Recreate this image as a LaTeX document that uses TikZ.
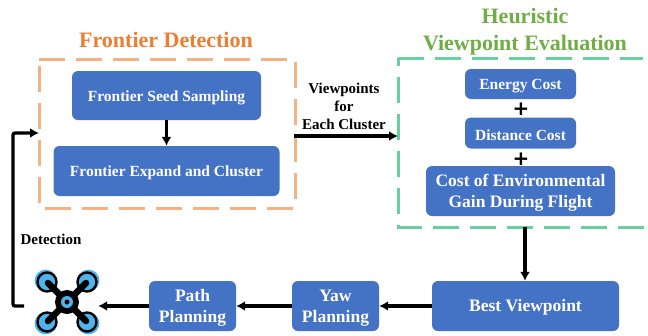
\documentclass[tikz,border=0pt]{standalone}
\usepackage{fontspec}
\usepackage{xcolor}
\setmainfont{Liberation Serif}
\newfontfamily\plusfont{DejaVu Sans}
\definecolor{boxblue}{HTML}{4472C4}
\definecolor{dashorange}{HTML}{F4B183}
\definecolor{dashgreen}{HTML}{66D19E}
\definecolor{titleorange}{HTML}{ED7D31}
\definecolor{titlegreen}{HTML}{70AD47}
\definecolor{rotorblue}{HTML}{4DB4EE}
\usetikzlibrary{arrows.meta}
\tikzset{
    block/.style={draw=none, fill=boxblue, rounded corners=6pt, text=white, font=\fontsize{15.5}{21}\selectfont\bfseries, align=center, inner sep=0pt, text height=15pt},
    bigblock/.style={block, font=\fontsize{17.5}{21}\selectfont\bfseries},
    twolines/.style={bigblock, text height=37pt},
    flow/.style={->, >={Latex[length=9pt,width=10pt]}, line width=3.3pt, black},
    frame/.style={line width=3pt, dash pattern=on 26pt off 11pt},
    heading/.style={font=\fontsize{22}{27}\selectfont\bfseries, align=center, inner sep=0pt},
    caption/.style={font=\fontsize{15}{18}\selectfont\bfseries, align=center, inner sep=0pt},
    plus/.style={font=\fontsize{20}{20}\selectfont\plusfont\bfseries, inner sep=0pt}
}
\begin{document}
\begin{tikzpicture}[x=1pt, y=-1pt]
    \useasboundingbox (0, 0) rectangle (648, 335);

    % frontier part
    \draw[frame, dashorange] (39, 59) -- (295, 59) -- (295, 208) -- (39, 208) -- cycle;
    \node[heading, text=titleorange] (fronttitle) at (166, 40) {Frontier Detection};
    \node[block, minimum width=189pt, minimum height=49pt] (seed) at (166.5, 95.5) {Frontier Seed Sampling};
    \node[block, minimum width=226pt, minimum height=50pt] (expand) at (166.5, 171) {Frontier Expand and Cluster};
    \coordinate (frontin) at (39, 133);
    \coordinate (frontout) at (294, 136);

    % heuristic part
    \draw[frame, dashgreen, dash phase=18pt] (398, 58) -- (398, 227) -- (648, 227);
    \draw[frame, dashgreen] (398, 58) -- (643, 58);
    \node[heading, text=titlegreen] (heurtitle) at (525, 32) {Heuristic\\Viewpoint Evaluation};
    \node[block, minimum width=111pt, minimum height=30pt] (energy) at (520.5, 84) {Energy Cost};
    \node[block, minimum width=111pt, minimum height=31pt] (distance) at (520.5, 133) {Distance Cost};
    \node[twolines, minimum width=189pt, minimum height=50pt] (gain) at (520.5, 191) {Cost of Environmental\\Gain During Flight};
    \node[plus] (plusa) at (521, 109) {+};
    \node[plus] (plusb) at (521, 159) {+};
    \coordinate (heurin) at (398, 136);
    \coordinate (heurout) at (525, 227);

    % bottom row
    \node[bigblock, minimum width=187pt, minimum height=50pt] (best) at (525.5, 306) {Best Viewpoint};
    \node[twolines, minimum width=87pt, minimum height=50pt] (yaw) at (335.5, 306) {Yaw\\Planning};
    \node[twolines, minimum width=87pt, minimum height=50pt] (path) at (192.5, 306) {Path\\Planning};
    \node[minimum width=62pt, minimum height=62pt, inner sep=0pt] (drone) at (67, 306) {};
    \coordinate (dronetail) at (24, 306);
    \coordinate (bend) at (13, 133);

    % drone
    \foreach \dx/\dy in {-20/-20, 20/-20, -20/20, 20/20} {
        \fill[rotorblue] (67+\dx*1.07, 302+\dy*1.07) circle (11);
        \draw[line width=2.4pt] (67+\dx, 302+\dy) circle (9.5);
        \draw[line width=6.5pt, line cap=round] (67, 302) -- (67+\dx*0.95, 302+\dy*0.95);
    }
    \fill[black] (67, 302) circle (12);
    \fill[rotorblue] (67, 302) circle (6);
    \fill[black] (67, 302) circle (2.5);

    \draw[flow] (seed) -- (expand);
    \draw[flow] (frontout) -- (heurin);
    \draw[flow] (heurout) -- (heurout |- best.north);
    \draw[flow] (best) -- (yaw);
    \draw[flow] (yaw) -- (path);
    \draw[flow] (path) -- (drone);
    \draw[flow, rounded corners=2pt] (dronetail) -| (bend) -- (frontin);

    \node[caption, text=black] (viewlabel) at (344, 106) {Viewpoints\\for\\Each Cluster};
    \node[caption, text=black] (detlabel) at (51, 239) {Detection};
\end{tikzpicture}
\end{document}
